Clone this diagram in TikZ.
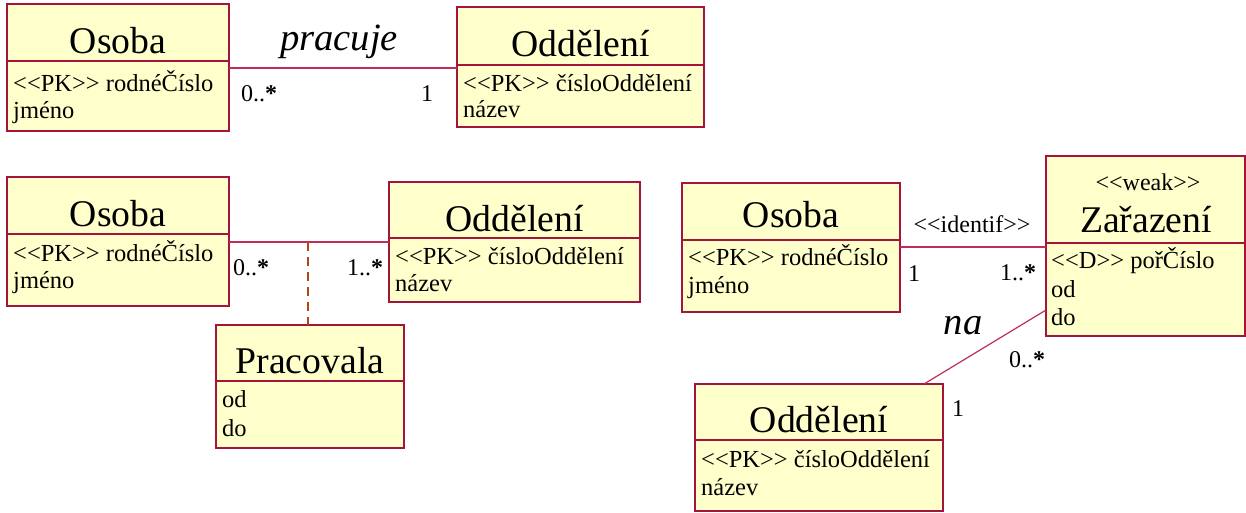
\documentclass[tikz,border=0pt]{standalone}
\usepackage{fontspec}
\setmainfont{Liberation Serif}
\definecolor{clsborder}{RGB}{165,20,60}
\definecolor{clsfill}{RGB}{255,255,204}
\definecolor{linecol}{RGB}{190,45,85}
\definecolor{dashcol}{RGB}{180,70,20}
\tikzset{
  cls/.style={draw=clsborder, fill=clsfill, line width=1.5pt, rectangle, inner sep=0pt, outer sep=0pt, anchor=north west},
  divline/.style={draw=clsborder, line width=1.3pt},
  clstitle/.style={font=\fontsize{37.7}{40}\selectfont, anchor=base, inner sep=0pt},
  attr/.style={font=\fontsize{24.5}{26}\selectfont, anchor=base west, inner sep=0pt},
  mult/.style={font=\fontsize{24}{26}\selectfont, anchor=base, inner sep=0pt},
  stereo/.style={font=\fontsize{24}{26}\selectfont, anchor=base, inner sep=0pt},
  assocname/.style={font=\itshape\fontsize{38.6}{40}\selectfont, anchor=base, inner sep=0pt},
  assoc/.style={draw=linecol, line width=1.2pt},
  assocdash/.style={draw=dashcol, line width=1.6pt, dash pattern=on 9pt off 6pt}
}
\newcommand{\mstar}{\textbf{*}}
\begin{document}
\begin{tikzpicture}[x=1pt,y=-1pt]
\useasboundingbox (0,0) rectangle (1246,512);

% ---------- row 1 ----------
\node[cls, minimum width=222pt, minimum height=127pt] (o1) at (7,4) {};
\draw[divline] (o1.west |- 0,61) -- (o1.east |- 0,61);
\node[clstitle] (o1t) at (118,53) {Osoba};
\node[attr] (o1a) at (13,91) {<{}<PK>{}> rodnéČíslo};
\node[attr] (o1b) at (13,118) {jméno};

\node[cls, minimum width=247pt, minimum height=120pt] (d1) at (457,7) {};
\draw[divline] (d1.west |- 0,65) -- (d1.east |- 0,65);
\node[clstitle] (d1t) at (580.5,56) {Oddělení};
\node[attr] (d1a) at (463,91) {<{}<PK>{}> čísloOddělení};
\node[attr] (d1b) at (463,117) {název};

\draw[assoc] (o1.east |- 0,68) -- (d1.west |- 0,68);
\node[assocname] (l1) at (339,50) {pracuje};
\node[mult] (m1a) at (259,101.5) {0..\mstar};
\node[mult] (m1b) at (427,101.5) {1};

% ---------- row 2 left ----------
\node[cls, minimum width=222pt, minimum height=129pt] (o2) at (7,177) {};
\draw[divline] (o2.west |- 0,234) -- (o2.east |- 0,234);
\node[clstitle] (o2t) at (118,226) {Osoba};
\node[attr] (o2a) at (13,261) {<{}<PK>{}> rodnéČíslo};
\node[attr] (o2b) at (13,288) {jméno};

\node[cls, minimum width=251pt, minimum height=120pt] (d2) at (389,182) {};
\draw[divline] (d2.west |- 0,238) -- (d2.east |- 0,238);
\node[clstitle] (d2t) at (514.5,231) {Oddělení};
\node[attr] (d2a) at (395,264) {<{}<PK>{}> čísloOddělení};
\node[attr] (d2b) at (395,291) {název};

\node[cls, minimum width=188pt, minimum height=123pt] (pr) at (216,325) {};
\draw[divline] (pr.west |- 0,381) -- (pr.east |- 0,381);
\node[clstitle] (prt) at (310,373) {Pracovala};
\node[attr] (pra) at (222,407) {od};
\node[attr] (prb) at (222,436) {do};

\draw[assoc] (o2.east |- 0,242) -- (d2.west |- 0,242);
\coordinate (ac) at (308,242);
\draw[assocdash] (ac) -- (pr.north -| ac);
\node[mult] (m2a) at (251,275) {0..\mstar};
\node[mult] (m2b) at (365,275) {1..\mstar};

% ---------- row 2 right ----------
\node[cls, minimum width=218pt, minimum height=129pt] (o3) at (682,183) {};
\draw[divline] (o3.west |- 0,240) -- (o3.east |- 0,240);
\node[clstitle] (o3t) at (791,227) {Osoba};
\node[attr] (o3a) at (688,265) {<{}<PK>{}> rodnéČíslo};
\node[attr] (o3b) at (688,293) {jméno};

\node[cls, minimum width=199pt, minimum height=180pt] (zr) at (1046,156) {};
\draw[divline] (zr.west |- 0,243) -- (zr.east |- 0,243);
\node[stereo] (zrs) at (1148,190) {<{}<weak>{}>};
\node[clstitle] (zrt) at (1146,232) {Zařazení};
\node[attr] (zra) at (1051,268) {<{}<D>{}> pořČíslo};
\node[attr] (zrb) at (1051,297) {od};
\node[attr] (zrc) at (1051,325) {do};

\node[cls, minimum width=248pt, minimum height=127pt] (d3) at (695,384) {};
\draw[divline] (d3.west |- 0,440) -- (d3.east |- 0,440);
\node[clstitle] (d3t) at (819,432) {Oddělení};
\node[attr] (d3a) at (701,467) {<{}<PK>{}> čísloOddělení};
\node[attr] (d3b) at (701,495) {název};

\draw[assoc] (o3.east |- 0,247) -- (zr.west |- 0,247);
\node[stereo] (l3) at (972,232) {<{}<identif>{}>};
\node[mult] (m3a) at (914,281) {1};
\node[mult] (m3b) at (1018,280) {1..\mstar};

\coordinate (nb) at (924,384);
\draw[assoc] (zr.west |- 0,310) -- (d3.north -| nb);
\node[assocname] (l4) at (963,334) {na};
\node[mult] (m4a) at (1027,367) {0..\mstar};
\node[mult] (m4b) at (958,416) {1};
\end{tikzpicture}
\end{document}
